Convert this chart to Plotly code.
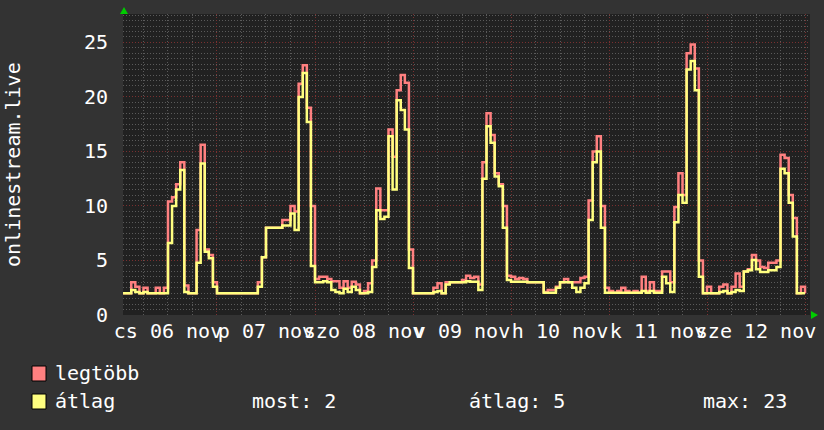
import plotly.graph_objects as go
import pandas as pd

# ---------------- data ----------------
times = pd.date_range("2025-11-06 01:00", periods=168, freq="h")

legtobb = [
    2, 2, 3, 2.6, 2, 2.5, 2, 2, 2.5, 2, 2.5, 10.4,            # h1-12
    10.8, 12, 14, 2.7, 2, 2, 7.8, 15.6, 6, 5.5, 3, 2,          # h13-24
    2, 2, 2, 2, 2, 2, 2, 2, 2, 3, 5.3, 8,                      # h25-36
    8, 8, 8, 8.7, 8.7, 10, 9.5, 21.2, 22.9, 19, 10, 3.3,       # h37-48
    3.5, 3.5, 3.3, 3.1, 3.1, 2.5, 3.1, 2.5, 3.05, 2.8, 2, 2.2, # h49-60
    2.9, 5, 11.6, 9.6, 9.6, 17, 14.5, 20.6, 22, 21.3, 6, 2,    # h61-72
    2, 2, 2, 2, 2.5, 2.9, 2, 3, 3, 3, 3, 3.2,                  # h73-84
    3.6, 3.4, 3.5, 2.8, 14, 18.5, 16.5, 13, 12, 10, 3.6, 3.5,  # h85-96
    3.3, 3.4, 3.3, 3, 3, 3, 3, 2.1, 2.3, 2.3, 2.6, 3,          # h97-108
    3.3, 3, 3, 3, 3.4, 3.5, 10.5, 15, 16.4, 10, 2.5, 2.2,      # h109-120
    2.05, 2.2, 2.5, 2.2, 2.05, 2.2, 2.05, 3.5, 2.2, 3, 2.2, 2.2,  # h121-132
    4, 4, 3, 9.9, 13, 11, 24, 24.8, 22.6, 5, 2, 2.6,           # h133-144
    2, 2, 2.6, 2.8, 2, 2.6, 3.8, 2.6, 4, 4.2, 5.5, 5,          # h145-156
    4.4, 4.3, 4.8, 4.8, 5, 14.7, 14.4, 11, 8.9, 2, 2.6, 2,     # h157-168
]

atlag = [
    2, 2, 2.3, 2.1, 2, 2.1, 2, 2, 2, 2, 2, 6.6,
    10, 11.5, 13.3, 2.1, 2, 2, 4.8, 13.9, 5.8, 5.2, 2.6, 2,
    2, 2, 2, 2, 2, 2, 2, 2, 2, 2.6, 5.3, 8,
    8, 8, 8, 8.2, 8.2, 9.3, 7.8, 20, 22.2, 17.7, 4.5, 3,
    3, 3.1, 3, 2.3, 2.1, 2, 2.4, 2.1, 2.6, 2.3, 2, 2,
    2.1, 4.4, 9.6, 8.8, 9, 16.4, 11.5, 19.7, 18.8, 17, 4.3, 2,
    2, 2, 2, 2, 2.1, 2.2, 2, 2.8, 3, 3, 3, 3,
    3.1, 3.05, 3.05, 2.3, 12.5, 17.3, 15.8, 12.7, 11.8, 8, 3.2, 3.05,
    3.05, 3.05, 3.05, 3, 3, 3, 3, 2.05, 2.05, 2.05, 2.5, 3,
    3, 3, 2.5, 2.1, 2.5, 2.9, 8.7, 14, 15, 8, 2.05, 2.05,
    2.05, 2.05, 2.05, 2.05, 2.05, 2.05, 2.05, 2.2, 2.05, 2.2, 2.05, 2.05,
    3.5, 2.9, 2.1, 8.5, 11, 10.3, 22.5, 23.3, 20.6, 3.5, 2, 2,
    2, 2, 2.1, 2.2, 2, 2.1, 2.3, 2.2, 4, 4.1, 5.05, 4.2,
    3.95, 3.95, 4.1, 4.1, 4.4, 13.4, 13, 10.3, 7.2, 2, 2, 2,
]

day_labels = ["cs 06 nov", "p 07 nov", "szo 08 nov", "v 09 nov",
              "h 10 nov", "k 11 nov", "sze 12 nov"]
day_noons = pd.date_range("2025-11-06 12:00", periods=7, freq="D")
midnights = pd.date_range("2025-11-07 00:00", periods=7, freq="D")
y_ticks = [0, 5, 10, 15, 20, 25]
series_names = ["legtöbb", "átlag"]
stats_labels = ["most: 2", "átlag: 5", "max: 23"]
y_title = "onlinestream.live"

# ---------------- layout geometry (reference pixel coords) ----------------
W, H = 824, 430
L, R, T, B = 123, 810, 14, 315
pw, ph = R - L, B - T


def px(x):
    return (x - L) / pw


def py(y):
    return (B - y) / ph


RED = "#ff8080"
YEL = "#ffff80"
FONT = "DejaVu Sans Mono"
TXT = "#ffffff"
MINOR_GRID = "#5a5a5a"
MAJOR_GRID = "#7a3030"
DASH = "1px,2px"

fig = go.Figure()
fig.add_trace(go.Scatter(x=times, y=legtobb, mode="lines", line_shape="hv",
                         line=dict(color=RED, width=2.5), name=series_names[0],
                         showlegend=False))
fig.add_trace(go.Scatter(x=times, y=atlag, mode="lines", line_shape="hv",
                         line=dict(color=YEL, width=2.5), name=series_names[1],
                         showlegend=False))
# invisible trace to carry the secondary (label) x-axis
fig.add_trace(go.Scatter(x=[times[0]], y=[None], xaxis="x2", showlegend=False,
                         hoverinfo="skip"))

xrange = ["2025-11-06 00:59", "2025-11-13 01:13"]

fig.update_layout(
    width=W, height=H,
    margin=dict(l=L, r=W - R, t=T, b=H - B, autoexpand=False),
    paper_bgcolor="#333333",
    plot_bgcolor="#212121",
    font=dict(family=FONT, size=20, color=TXT),
    xaxis=dict(
        type="date", range=xrange, automargin=False,
        tickmode="array", tickvals=list(midnights), showticklabels=False,
        showgrid=True, gridcolor=MAJOR_GRID, griddash=DASH, gridwidth=1,
        minor=dict(dtick=6 * 3600 * 1000, tick0="2025-11-06 00:00",
                   showgrid=True, gridcolor=MINOR_GRID, griddash=DASH,
                   gridwidth=1),
        zeroline=False, showline=False, ticks="",
    ),
    xaxis2=dict(
        type="date", range=xrange, overlaying="x", side="bottom", anchor="y",
        automargin=False, tickangle=0,
        tickmode="array", tickvals=list(day_noons), ticktext=day_labels,
        showgrid=False, zeroline=False, ticks="",
        tickfont=dict(family=FONT, size=20, color=TXT),
        ticklabelstandoff=2,
    ),
    yaxis=dict(
        range=[0, 27.6], automargin=False,
        tickmode="array", tickvals=y_ticks,
        showgrid=True, gridcolor=MAJOR_GRID, griddash=DASH, gridwidth=1,
        minor=dict(dtick=0.5, showgrid=True, gridcolor=MINOR_GRID,
                   griddash=DASH, gridwidth=1),
        zeroline=False, showline=False, ticks="",
        tickfont=dict(family=FONT, size=20, color=TXT),
        ticklabelstandoff=14,
    ),
)

annotations = [
    dict(text=y_title, textangle=-90, xref="paper", yref="paper",
         x=px(13), y=py(165), xanchor="center", yanchor="middle",
         showarrow=False, font=dict(family=FONT, size=20, color=TXT)),
    dict(text=series_names[0], xref="paper", yref="paper", x=px(53), y=py(373),
         xanchor="left", yanchor="middle", showarrow=False,
         font=dict(family=FONT, size=20, color=TXT)),
    dict(text=series_names[1], xref="paper", yref="paper", x=px(53), y=py(401),
         xanchor="left", yanchor="middle", showarrow=False,
         font=dict(family=FONT, size=20, color=TXT)),
]
for lbl, xl in zip(stats_labels, [250, 467, 701]):
    annotations.append(dict(text=lbl, xref="paper", yref="paper", x=px(xl),
                            y=py(401), xanchor="left", yanchor="middle",
                            showarrow=False,
                            font=dict(family=FONT, size=20, color=TXT)))
fig.update_layout(annotations=annotations)

shapes = [
    dict(type="rect", xref="paper", yref="paper", x0=px(32), x1=px(46),
         y0=py(381), y1=py(366), fillcolor=RED, line=dict(color="#000000", width=1)),
    dict(type="rect", xref="paper", yref="paper", x0=px(32), x1=px(46),
         y0=py(409), y1=py(394), fillcolor=YEL, line=dict(color="#000000", width=1)),
    # green axis arrows
    dict(type="path", xref="paper", yref="paper",
         path=f"M {px(120)} {py(14)} L {px(128)} {py(14)} L {px(124)} {py(7)} Z",
         fillcolor="#00cc00", line=dict(color="#00cc00", width=0)),
    dict(type="path", xref="paper", yref="paper",
         path=f"M {px(811)} {py(311)} L {px(811)} {py(319)} L {px(818)} {py(315)} Z",
         fillcolor="#00cc00", line=dict(color="#00cc00", width=0)),
]
fig.update_layout(shapes=shapes)

# place the figure flush with the window's top-left corner, no mode bar
fig.write_html("out.html",
               config={"displayModeBar": False},
               post_script="document.body.style.margin='0';"
                           "document.body.style.background='#333333';")
